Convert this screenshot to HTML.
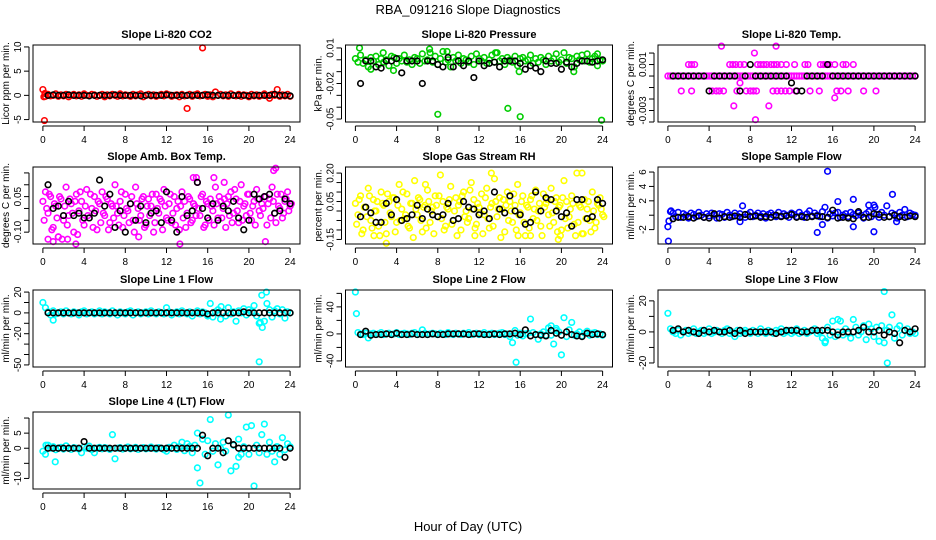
<!DOCTYPE html>
<html><head><meta charset="utf-8"><style>
body{margin:0;background:#fff;}
svg{display:block;font-family:"Liberation Sans",sans-serif;}
</style></head><body>
<svg id="chart" width="936" height="540" viewBox="0 0 936 540" xmlns="http://www.w3.org/2000/svg">
<text x="468" y="14" text-anchor="middle" font-size="13">RBA_091216  Slope Diagnostics</text>
<text x="468" y="531" text-anchor="middle" font-size="13">Hour of Day (UTC)</text>
</svg>
<script>
// shared x tick labels
const xTicks = [0,4,8,12,16,20,24];
// grid of hours (0..24 every 0.25 h) for colored series, black every 0.5 h
const hoursQ = []; for (let i = 0; i <= 96; i++) hoursQ.push(i / 4);
const hoursH = []; for (let i = 1; i <= 48; i++) hoursH.push(i / 2);

// ---- CO2 ----
const co2Vals = [1.2,-0.2,0.2,-0.1,0.0,0.3,-0.2,0.1,-0.1,0.2,-0.3,0.0,0.2,-0.1,0.1,-0.2,0.3,0.0,-0.1,0.2,0.1,-0.2,0.0,0.2,-0.3,0.1,-0.1,0.2,0.0,-0.2,0.3,-0.1,0.1,0.0,-0.2,0.2,-0.1,0.1,0.3,-0.3,0.0,0.2,-0.1,0.1,-0.2,0.0,0.2,-0.1,0.3,0.1,-0.2,0.0,0.1,-0.3,0.2,-0.1,0.0,0.2,-0.2,0.1,0.3,-0.1,0.0,0.2,-0.2,0.1,-0.3,0.7,0.0,0.2,-0.1,0.1,-0.2,0.3,0.0,-0.1,0.2,-0.2,0.1,0.0,-0.3,0.2,-0.1,0.1,-0.2,0.0,0.3,-0.1,-0.6,0.2,0.0,1.2,-0.2,0.1,-0.1,0.2,-0.2];
const co2ExtraT = [0.15,15.5,14.0,0.1,0.2];
const co2ExtraV = [-5.2,9.8,-2.7,-0.3,0.4];
const co2Black = [0,0.1,0,0,0.1,0,0,0,-0.1,0,0,0,0,0.1,0,0,0,0,-0.1,0,0,0,0,0.1,0,0,0,0,0,0,0,0.1,0,0,0,0,0,0,0,-0.1,0,0,0,0,0.2,0,0,-0.1];

// ---- Pressure ----
const presVals = [0.001,-0.002,0.004,-0.003,0.000,-0.006,0.002,-0.001,0.003,-0.004,0.001,-0.002,0.000,-0.005,0.003,0.002,-0.003,0.001,-0.001,0.004,-0.002,0.000,-0.004,0.002,0.001,-0.003,0.005,-0.001,0.000,0.006,-0.002,0.003,-0.004,0.001,0.007,-0.002,0.000,-0.006,0.002,-0.001,0.004,-0.003,0.001,0.000,-0.002,0.003,-0.004,0.005,0.001,-0.001,0.002,-0.003,0.000,0.004,-0.002,0.006,-0.001,0.001,-0.004,0.002,0.000,-0.002,0.003,-0.005,0.001,0.002,-0.001,0.000,0.004,-0.003,0.001,-0.002,0.002,0.000,-0.004,0.003,-0.001,0.001,0.005,-0.002,0.000,0.006,-0.003,0.002,0.001,-0.006,0.003,0.000,0.004,-0.001,0.005,-0.002,0.001,0.003,-0.005,0.000,-0.001];
const presExtraT = [0.4,8.0,14.8,16.0,23.9,1.5,3.7,7.2,8.9,13.6,21.2,23.5,15.9,2.7];
const presExtraV = [0.010,-0.046,-0.041,-0.048,-0.051,-0.008,-0.009,0.009,0.007,0.006,-0.010,0.005,-0.010,0.006];
const presBlack = [-0.020,-0.001,-0.001,-0.006,-0.007,-0.001,-0.001,0.001,-0.011,-0.001,-0.001,-0.001,-0.020,-0.001,-0.001,-0.004,-0.006,0.002,-0.006,-0.001,-0.005,-0.001,-0.015,-0.001,-0.005,-0.003,-0.002,-0.006,-0.001,-0.001,-0.001,-0.003,-0.008,-0.005,-0.007,-0.010,-0.001,-0.003,-0.003,-0.008,-0.002,-0.006,-0.003,-0.001,-0.001,-0.002,-0.001,0.000];

// ---- Li-820 Temp ----
const tempVals = [0,0,0,0,0,0,0,0,0,0,0,0,0,0,0,0,0,0,0,0,0,0,0,0,0,0,0,0,0,0,0,0,0,0,0,0,0,0,0,0,0,0,0,0,0,0,0,0,0,0,0,0,0,0,0,0,0,0,0,0,0,0,0,0,0,0,0,0,0,0,0,0,0,0,0,0,0,0,0,0,0,0,0,0,0,0,0,0,0,0,0,0,0,0,0,0,0];
const tempExtraT = [2.0,2.3,2.6,6.0,6.3,6.6,7.0,7.4,8.7,9.0,9.3,9.6,10.0,10.3,10.6,11.0,11.5,12.3,13.3,13.6,14.8,15.1,15.4,15.7,16.2,17.0,17.3,18.0,1.3,2.3,4.3,4.7,5.0,5.4,6.7,7.6,8.0,8.3,8.6,10.2,10.6,11.0,11.4,11.8,12.4,13.8,14.7,16.4,16.8,17.5,19.0,20.2,5.2,10.5,8.4,7.0,6.4,9.8,8.5,16.2];
const tempExtraV = [0.001,0.001,0.001,0.001,0.001,0.001,0.001,0.001,0.001,0.001,0.001,0.001,0.001,0.001,0.001,0.001,0.001,0.001,0.001,0.001,0.001,0.001,0.001,0.001,0.001,0.001,0.001,0.001,-0.0013,-0.0013,-0.0013,-0.0013,-0.0013,-0.0013,-0.0013,-0.0013,-0.0013,-0.0013,-0.0013,-0.0013,-0.0013,-0.0013,-0.0013,-0.0013,-0.0013,-0.0013,-0.0013,-0.0013,-0.0013,-0.0013,-0.0013,-0.0013,0.0026,0.0026,0.002,-0.0006,-0.0026,-0.0026,-0.0038,-0.0019];
const tempBlack = [0,0,0,0,0,0,0,-0.0013,0,0,0,0,0,-0.0013,0,0.001,0,0,0,0,0,0,0,-0.0006,-0.0013,-0.0013,0,0,0,0,0.001,0,0,0,0,0,0,0,0,0,0,0,0,0,0,0,0,0];

// ---- Amb Box Temp ----
const ambVals = [0.03,0.07,-0.02,0.05,-0.08,0.01,-0.12,0.04,-0.05,0.09,-0.03,0.02,-0.10,0.06,-0.01,0.03,-0.07,0.08,-0.04,0.00,0.05,-0.09,0.02,0.07,-0.03,0.04,-0.06,0.01,0.10,-0.02,0.03,-0.08,0.06,-0.01,0.02,-0.05,0.09,0.00,-0.03,0.05,-0.07,0.04,0.01,-0.10,0.06,-0.02,0.03,0.08,-0.04,0.02,-0.06,0.05,0.00,-0.09,0.07,0.03,-0.02,0.04,-0.05,0.01,0.11,-0.03,0.06,-0.07,0.02,0.04,-0.01,0.09,-0.04,0.03,0.00,-0.08,0.05,0.07,-0.02,0.04,-0.06,0.10,0.01,-0.03,0.06,-0.05,0.03,0.08,-0.01,0.02,0.05,-0.07,0.04,0.09,-0.02,0.06,0.00,-0.04,0.03,0.07,0.01];
const ambVals2 = [-0.05,0.00,0.06,-0.09,0.02,-0.04,0.05,-0.13,0.01,-0.07,0.04,-0.02,0.03,-0.11,0.07,-0.05,0.01,-0.03,0.06,-0.08,-0.01,0.03,-0.06,-0.02,0.05,-0.09,0.02,-0.04,0.01,-0.07,0.07,-0.03,0.00,-0.06,0.05,-0.10,0.02,-0.05,0.04,-0.08,0.01,-0.03,0.06,-0.06,0.00,0.04,-0.09,0.01,-0.05,0.06,-0.02,-0.07,0.03,0.01,-0.04,-0.08,0.05,-0.06,0.02,-0.03,0.00,0.05,-0.08,0.03,-0.05,0.01,-0.07,0.02,0.05,-0.04,0.04,0.02,-0.03,-0.06,0.08,-0.01,0.03,-0.05,0.02,0.06,-0.02,0.01,-0.07,0.04,-0.03,0.00,0.05,0.02,-0.04,0.03,-0.06,0.01,0.06,-0.02,0.04,-0.01,0.02];
const ambExtraT = [0.5,1.0,1.5,2.4,3.2,14.6,14.9,16.6,17.6,22.4,22.6,9.3,13.3,21.6];
const ambExtraV = [-0.13,-0.14,-0.12,-0.13,-0.15,0.13,0.13,0.13,0.11,0.16,0.17,-0.12,-0.15,-0.14];
const ambBlack = [0.10,0.00,0.01,-0.03,0.03,-0.03,-0.02,-0.04,-0.04,-0.02,0.12,0.01,0.06,-0.08,-0.01,-0.10,0.02,-0.05,0.01,-0.06,-0.02,-0.01,-0.06,0.07,-0.05,-0.10,0.05,-0.03,-0.01,0.11,0.00,-0.04,0.02,-0.05,0.01,-0.01,0.03,-0.04,-0.09,-0.05,0.06,0.04,0.05,0.06,-0.02,-0.01,0.04,0.02];

// ---- Gas Stream RH ----
const rhVals = [0.04,-0.02,0.08,-0.10,0.02,0.12,-0.05,0.06,0.00,-0.08,0.10,0.03,-0.12,0.05,-0.03,0.07,-0.06,0.14,0.01,-0.04,0.09,-0.09,0.04,0.16,-0.02,0.06,-0.11,0.03,0.11,-0.06,0.02,0.08,-0.03,0.19,0.05,-0.08,0.01,0.13,-0.05,0.07,0.03,-0.10,0.10,0.00,-0.04,0.15,0.06,-0.07,0.02,0.09,-0.02,0.12,-0.09,0.04,0.17,-0.03,0.07,0.01,-0.11,0.10,0.05,-0.06,0.03,0.14,-0.01,0.08,-0.13,0.02,0.06,-0.04,0.11,0.00,-0.08,0.09,0.04,-0.02,0.12,-0.06,0.07,0.02,-0.10,0.16,0.05,-0.03,0.08,-0.07,0.20,0.03,-0.12,0.06,0.01,-0.05,0.10,-0.09,0.04,0.07,-0.02];
const rhVals2 = [-0.07,0.06,-0.12,0.02,-0.03,0.08,-0.09,0.00,0.05,-0.13,0.04,-0.06,0.09,-0.01,0.07,-0.11,0.03,-0.05,0.10,-0.02,-0.08,0.04,-0.14,0.01,0.07,-0.05,0.02,-0.09,0.05,0.00,-0.12,0.03,0.08,-0.04,-0.10,0.02,0.06,-0.07,0.00,-0.13,0.05,0.08,-0.03,-0.06,0.11,0.01,-0.09,0.04,-0.01,-0.12,0.07,-0.04,0.02,-0.08,0.05,0.01,-0.14,0.06,0.03,-0.05,0.00,0.09,-0.10,-0.02,0.05,-0.06,0.03,-0.09,0.08,0.01,-0.05,0.04,-0.13,0.02,0.06,-0.08,-0.01,0.05,-0.11,0.03,0.07,-0.04,-0.09,0.01,0.04,-0.13,-0.06,0.02,-0.12,-0.04,0.05,-0.11,0.00,-0.06,0.03,0.01,-0.03];
const rhExtraT = [3.0,1.8,13.2,22.0,15.8,17.0,19.7,19.9,6.8,11.6];
const rhExtraV = [-0.17,-0.13,0.20,0.20,-0.13,-0.13,-0.15,-0.13,0.14,-0.13];
const rhBlack = [-0.03,0.02,-0.01,-0.06,-0.06,0.04,-0.02,0.06,-0.05,-0.04,-0.02,0.03,-0.04,0.01,-0.02,-0.03,-0.02,0.04,-0.05,-0.04,0.05,0.02,0.01,-0.02,0.00,-0.04,0.10,0.01,-0.01,0.08,0.00,-0.02,-0.07,-0.06,0.10,0.00,0.07,0.06,0.00,-0.03,-0.01,-0.08,0.06,0.06,-0.04,-0.03,0.06,0.04];

// ---- Sample Flow ----
const sfVals = [-1.6,0.5,0.3,-0.2,0.4,-0.3,0.2,0.0,-0.4,0.3,0.1,-0.2,0.4,0.0,-0.3,0.2,-0.1,0.3,0.0,-0.4,0.2,0.1,-0.3,0.4,0.0,-0.2,0.3,-0.1,0.2,1.3,-0.3,0.1,0.4,-0.2,0.0,0.3,-0.1,0.2,-0.4,0.1,0.3,0.0,-0.2,0.4,-0.1,0.2,0.0,-0.3,0.3,0.1,-0.2,0.4,0.0,-0.3,0.2,0.6,-0.1,0.3,0.0,-0.2,0.5,1.1,-0.4,0.2,-0.1,0.3,0.4,-0.3,0.0,0.2,-0.2,0.4,0.1,-0.1,0.3,0.0,-0.4,0.2,0.5,-0.2,1.4,0.1,-0.3,0.4,0.0,1.3,-0.2,0.3,0.1,-0.4,0.4,0.0,0.8,-0.2,0.3,0.1,0.0];
const sfExtraT = [0.05,0.1,0.3,7.0,14.5,15.5,15.0,16.5,18.0,18.0,20.0,21.8,19.5,22.2,20.1];
const sfExtraV = [-3.6,-0.8,0.6,-0.9,-2.4,6.1,-1.3,1.9,2.2,-1.6,-2.3,2.9,1.4,-0.9,1.1];
const sfBlack = [-0.5,-0.3,-0.3,-0.2,-0.4,-0.1,-0.3,-0.4,0.2,-0.4,-0.2,-0.3,-0.1,-0.3,0.1,-0.2,-0.1,-0.3,-0.2,-0.3,0.0,-0.2,-0.1,0.1,-0.3,-0.2,-0.3,-0.2,-0.1,-0.2,-0.3,0.7,-0.4,-0.3,-0.4,-0.5,0.5,-0.3,-0.3,0.2,0.1,-0.3,-0.2,0.0,-0.2,-0.3,-0.1,-0.2];

// ---- Line 1 Flow ----
const l1Vals = [10,5,1,-2,2,-1,0,1,-1,2,0,-1,1,0,-2,1,2,-1,0,1,-1,0,2,-1,1,0,-1,2,0,-2,1,0,-1,1,2,-2,0,1,-1,0,1,-1,2,0,-1,1,0,-1,5,1,-2,0,1,-1,2,0,-1,1,-3,0,2,-1,1,0,-2,9,-4,1,3,-6,0,-3,5,-1,1,-8,2,0,4,-2,3,1,7,-3,-10,17,-8,9,3,-4,2,4,-1,3,-5,1,0];
const l1ExtraT = [1.0,21.0,21.3,21.7,21.1,16.0,17.3];
const l1ExtraV = [-7,-47,-14,20,-9,-3,6];
const l1Black = [0,0,0,0,0,0,0,0,0,0,0,0,0,0,0,0,0,0,0,0,0,0,0,0,0,0,0,0,0,0,0,-1,0,0,0,0,0,0,1,0,0,0,0,0,0,0,0,0];

// ---- Line 2 Flow ----
const l2Vals = [62,2,0,-1,1,-6,0,1,-1,0,2,-1,0,1,-1,0,2,-1,0,1,0,-1,1,2,-1,0,6,1,-1,0,1,0,-1,1,0,-1,2,0,-1,1,0,-1,1,0,2,-1,0,1,-1,0,2,-1,0,1,-1,0,1,2,-1,0,-4,-13,5,-2,1,-3,0,1,22,2,-1,-8,0,3,-2,9,12,-15,5,3,-31,24,-4,6,17,-2,0,3,-3,1,4,-2,1,2,-1,0,-2];
const l2ExtraT = [0.1,15.6,19.5,19.0];
const l2ExtraV = [30,-42,8,-2];
const l2Black = [-1,4,-2,-1,-1,0,-1,1,-1,-1,0,-1,-1,-1,0,-1,-1,0,0,0,0,-1,0,0,-1,-1,0,-1,0,0,1,-1,6,-3,-1,-2,-3,5,1,-2,3,-1,-3,-4,1,-1,0,-1];

// ---- Line 3 Flow ----
const l3Vals = [12,2,0,-1,1,-2,0,1,-1,0,2,-1,0,1,-1,0,2,-1,0,1,0,-1,1,2,-1,0,-3,1,-1,0,1,0,-1,1,0,-1,2,0,-1,1,0,-1,1,0,2,-1,0,1,-1,0,2,-1,0,1,-1,0,1,2,-1,0,-4,-7,3,-2,7,-3,0,7,-2,2,-1,-4,8,3,-2,0,4,-5,5,2,-3,3,-6,4,-7,1,3,11,-4,2,4,-2,1,2,-1,0,-1];
const l3ExtraT = [21.0,21.3,16.5,15.3,22.0];
const l3ExtraV = [26,-20,8,-6,-4];
const l3Black = [1,2,0,1,0,-1,1,0,1,0,0,1,-1,1,-1,0,0,0,0,0,-1,0,1,1,1,0,0,1,1,1,1,0,-2,0,0,0,1,3,0,0,1,-2,0,-1,-7,1,0,2];

// ---- Line 4 (LT) Flow ----
const l4Vals = [-1,-2,1,0,0.5,-0.5,0,0.3,-0.3,0.8,0,-0.4,0.2,0,-0.3,-1.5,0.4,0,0.7,-0.5,-1.5,0,0.3,-0.2,0.2,0,-0.4,4.5,-3.5,0,0.2,-0.3,0,0.4,-0.2,0,0.3,-0.4,0,0.2,-0.2,0,0.4,0,-0.3,0.2,0,-0.5,-1,0.3,0,1,-0.4,0.5,2,-0.8,1.5,0.6,-1.5,1,5,-11.5,3,-2,2.5,9.5,-1,1.5,-5.5,0,2,-1,11,-7.5,1,-6,3,-2,0.5,7,-2,7.5,-12.5,1,-1.5,4.5,8,-2,2,-1,-4.5,0.5,-2,3.5,-0.5,1.5,0.5];
const l4ExtraT = [1.2,15.0,0.3,22.7,19.0];
const l4ExtraV = [-4.5,-6.5,1,0.5,-3];
const l4Black = [0,0,0,0,0,0,0,2.2,0,0,0,0,0,0,0,0,0,0,0,0,0,0,0,0,0,0,0,0,0,0,4.3,-2.5,0,0,-1.5,2.5,1.2,0,0,0,0,0,0,0,0,0,-3,0];

const COLS = [33, 345.5, 658], BOXW = 267, ROWS = [45, 167, 290, 412], BOXH = 77;
const panels = [
 {name:'co2', title:'Slope Li-820 CO2', ylab:'Licor ppm per min.', col:0,row:0, ylim:[-5.5,10.4], ticks:[-5,0,5,10], labels:['-5','0','5','10'], color:'#ff0000', vals:co2Vals, vals2:null, et:co2ExtraT, ev:co2ExtraV, black:co2Black},
 {name:'pressure', title:'Slope Li-820 Pressure', ylab:'kPa per min.', col:1,row:0, ylim:[-0.0525,0.0125], ticks:[-0.05,-0.04,-0.03,-0.02,-0.01,0,0.01], labels:['-0.05','','','-0.02','','','0.01'], color:'#00cd00', vals:presVals, vals2:null, et:presExtraT, ev:presExtraV, black:presBlack},
 {name:'li820-temp', title:'Slope Li-820 Temp.', ylab:'degrees C per min.', col:2,row:0, ylim:[-0.0040,0.0027], ticks:[-0.004,-0.003,-0.002,-0.001,0,0.001,0.002], labels:['','-0.003','','','','0.001',''], color:'#ff00ff', vals:tempVals, vals2:null, et:tempExtraT, ev:tempExtraV, black:tempBlack},
 {name:'amb-box-temp', title:'Slope Amb. Box Temp.', ylab:'degrees C per min.', col:0,row:1, ylim:[-0.15,0.175], ticks:[-0.1,-0.05,0,0.05,0.1,0.15], labels:['-0.10','','','0.05','',''], color:'#ff00ff', vals:ambVals, vals2:ambVals2, et:ambExtraT, ev:ambExtraV, black:ambBlack},
 {name:'gas-stream-rh', title:'Slope Gas Stream RH', ylab:'percent per min.', col:1,row:1, ylim:[-0.174,0.232], ticks:[-0.15,-0.1,-0.05,0,0.05,0.1,0.15,0.2], labels:['-0.15','','','','0.05','','','0.20'], color:'#ffff00', vals:rhVals, vals2:rhVals2, et:rhExtraT, ev:rhExtraV, black:rhBlack},
 {name:'sample-flow', title:'Slope Sample Flow', ylab:'ml/min per min.', col:2,row:1, ylim:[-4.0,6.7], ticks:[-2,0,2,4,6], labels:['-2','','2','4','6'], color:'#0000ff', vals:sfVals, vals2:null, et:sfExtraT, ev:sfExtraV, black:sfBlack},
 {name:'line1-flow', title:'Slope Line 1 Flow', ylab:'ml/min per min.', col:0,row:2, ylim:[-52,22], ticks:[-50,-40,-30,-20,-10,0,10,20], labels:['-50','','','-20','','0','','20'], color:'#00ffff', vals:l1Vals, vals2:null, et:l1ExtraT, ev:l1ExtraV, black:l1Black},
 {name:'line2-flow', title:'Slope Line 2 Flow', ylab:'ml/min per min.', col:1,row:2, ylim:[-49,65], ticks:[-40,-20,0,20,40,60], labels:['-40','','0','','40',''], color:'#00ffff', vals:l2Vals, vals2:null, et:l2ExtraT, ev:l2ExtraV, black:l2Black},
 {name:'line3-flow', title:'Slope Line 3 Flow', ylab:'ml/min per min.', col:2,row:2, ylim:[-22.6,27], ticks:[-20,-10,0,10,20], labels:['-20','','0','','20'], color:'#00ffff', vals:l3Vals, vals2:null, et:l3ExtraT, ev:l3ExtraV, black:l3Black},
 {name:'line4-flow', title:'Slope Line 4 (LT) Flow', ylab:'ml/min per min.', col:0,row:3, ylim:[-13.5,12], ticks:[-10,-5,0,5,10], labels:['-10','','0','5',''], color:'#00ffff', vals:l4Vals, vals2:null, et:l4ExtraT, ev:l4ExtraV, black:l4Black}
];

const svg = document.getElementById('chart');
const NS = 'http://www.w3.org/2000/svg';
function mk(tag, attrs, parent) {
  const e = document.createElementNS(NS, tag);
  for (const k in attrs) e.setAttribute(k, attrs[k]);
  parent.appendChild(e);
  return e;
}
panels.forEach(p => {
  const L = COLS[p.col], T = ROWS[p.row], R = L + BOXW, B = T + BOXH;
  const xs = h => L + (h + 0.96) / 25.92 * BOXW;
  const ys = v => B - (v - p.ylim[0]) / (p.ylim[1] - p.ylim[0]) * BOXH;
  const g = mk('g', {}, svg);
  
  
  const t = mk('text', {x: (L + R) / 2, y: T - 7, 'text-anchor': 'middle', 'font-size': 11, 'font-weight': 'bold'}, g);
  t.textContent = p.title;
  
  
  const yl = mk('text', {x: 0, y: 0, transform: `translate(${L - 24},${(T + B) / 2}) rotate(-90)`, 'text-anchor': 'middle', 'font-size': 10}, g);
  yl.textContent = p.ylab;
  
  
  const pts = mk('g', {fill: 'none', 'stroke-width': 1.6}, g);
  
  
  const dot = (h, v, c, nm) => {
    const ci = mk('circle', {cx: xs(h).toFixed(2), cy: ys(v).toFixed(2), r: 2.8, stroke: c}, pts);
    
    
  };
  p.vals.forEach((v, i) => dot(hoursQ[i], v, p.color, p.name + '-point'));
  if (p.vals2) p.vals2.forEach((v, i) => dot(hoursQ[i] + 0.12, v, p.color, p.name + '-point'));
  p.et.forEach((h, i) => dot(h, p.ev[i], p.color, p.name + '-point'));
  p.black.forEach((v, i) => dot(hoursH[i], v, '#000', p.name + '-hourly-point'));
  const box = mk('rect', {x: L, y: T, width: BOXW, height: BOXH, fill: 'none', stroke: '#000', 'stroke-width': 1}, g);
  
  
  const xa = mk('g', {stroke: '#000', 'stroke-width': 1}, g);
  
  
  mk('line', {x1: xs(0), x2: xs(24), y1: B + 4, y2: B + 4}, xa);
  xTicks.forEach(h => {
    mk('line', {x1: xs(h), x2: xs(h), y1: B + 4, y2: B + 9}, xa);
    const tx = mk('text', {x: xs(h), y: B + 21, 'text-anchor': 'middle', 'font-size': 10, stroke: 'none'}, xa);
    tx.textContent = h;
    
    
  });
  const ya = mk('g', {stroke: '#000', 'stroke-width': 1}, g);
  
  
  mk('line', {x1: L - 4, x2: L - 4, y1: ys(p.ticks[0]), y2: ys(p.ticks[p.ticks.length - 1])}, ya);
  p.ticks.forEach((v, i) => {
    mk('line', {x1: L - 9, x2: L - 4, y1: ys(v), y2: ys(v)}, ya);
    if (p.labels[i]) {
      const tx = mk('text', {x: 0, y: 0, transform: `translate(${L - 12},${ys(v)}) rotate(-90)`, 'text-anchor': 'middle', 'font-size': 10, stroke: 'none'}, ya);
      tx.textContent = p.labels[i];
      
      
    }
  });
});
</script>
</body></html>
